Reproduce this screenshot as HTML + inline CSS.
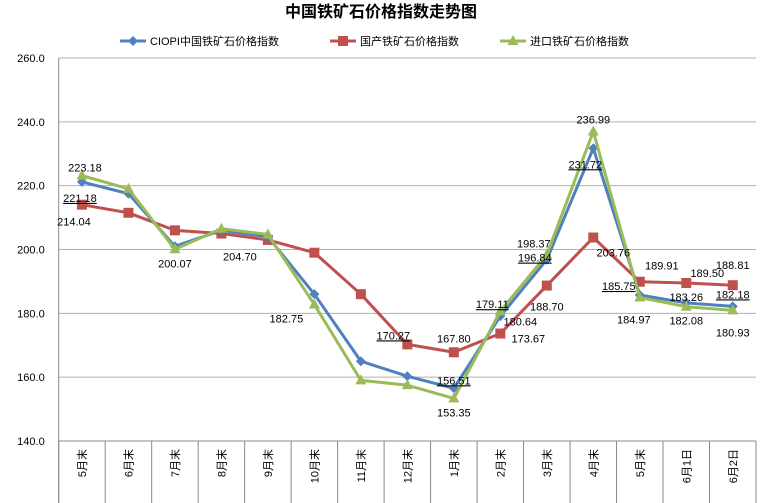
<!DOCTYPE html>
<html><head><meta charset="utf-8"><style>
html,body{margin:0;padding:0;background:#fff;}
svg{display:block;font-family:"Liberation Sans","Noto Sans CJK SC",sans-serif;}
</style></head><body>
<svg id="chart" width="763" height="503" viewBox="0 0 763 503" xmlns="http://www.w3.org/2000/svg">
<text x="381" y="17" text-anchor="middle" font-size="16" font-weight="bold" fill="#000">中国铁矿石价格指数走势图</text>
<g id="legend"></g>
<g id="grid"></g><g id="axes"></g><g id="series"></g><g id="labels"></g>
</svg>
<script>
const categories=["5月末","6月末","7月末","8月末","9月末","10月末","11月末","12月末","1月末","2月末","3月末","4月末","5月末","6月1日","6月2日"];
const ciopi=[221.18,217.5,201.0,206.0,204.0,186.0,165.0,160.3,156.51,179.11,196.84,231.72,185.75,183.26,182.18];
const domestic=[214.04,211.5,206.0,205.0,203.0,199.0,186.0,170.27,167.80,173.67,188.70,203.76,189.91,189.50,188.81];
const imported=[223.18,219.0,200.07,206.5,204.70,182.75,159.0,157.5,153.35,180.64,198.37,236.99,184.97,182.08,180.93];
const yTicks=[140,160,180,200,220,240,260];
const seriesNames=["CIOPI中国铁矿石价格指数","国产铁矿石价格指数","进口铁矿石价格指数"];
const NS="http://www.w3.org/2000/svg";
const L=58.7,R=756,T=58,B=441,ymin=140,ymax=260;
const bw=(R-L)/categories.length;
const x=i=>L+bw*(i+0.5);
const y=v=>B-(v-ymin)/(ymax-ymin)*(B-T);
function mk(tag,attrs,parent){const e=document.createElementNS(NS,tag);for(const k in attrs)e.setAttribute(k,attrs[k]);parent.appendChild(e);return e;}
const grid=document.getElementById('grid'),axes=document.getElementById('axes'),ser=document.getElementById('series'),lab=document.getElementById('labels'),leg=document.getElementById('legend');
yTicks.forEach(t=>{
 const ln=mk('line',{x1:L,x2:R,y1:y(t),y2:y(t),stroke:t===ymin?'#888':'#b0b0b0','stroke-width':1},grid);
 
 
 const tx=mk('text',{x:L-14,y:y(t)+4,'text-anchor':'end','font-size':11,fill:'#000'},axes);
 tx.textContent=t.toFixed(1);
 
 
});
mk('line',{x1:L,x2:L,y1:T,y2:503,stroke:'#888'},axes);
for(let i=0;i<=categories.length;i++){mk('line',{x1:L+bw*i,x2:L+bw*i,y1:B,y2:503,stroke:'#888'},axes);}
categories.forEach((c,i)=>{
 const tx=mk('text',{transform:`translate(${x(i)+4},${B+8}) rotate(-90)`,'text-anchor':'end','font-size':11,fill:'#000'},axes);
 tx.textContent=c;
 
 
});
const colors=['#4f81bd','#c0504d','#9bbb59'];
const data=[ciopi,domestic,imported];
function marker(kind,cx,cy,col,p){
 if(kind===0) return mk('polygon',{points:`${cx},${cy-5} ${cx+5},${cy} ${cx},${cy+5} ${cx-5},${cy}`,fill:col},p);
 if(kind===1) return mk('rect',{x:cx-5,y:cy-5,width:10,height:10,fill:col},p);
 return mk('polygon',{points:`${cx},${cy-6} ${cx+5.5},${cy+4} ${cx-5.5},${cy+4}`,fill:col},p);
}
[1,0,2].forEach(s=>{
 const d=data[s];
 const pl=mk('polyline',{points:d.map((v,i)=>x(i)+','+y(v)).join(' '),fill:'none',stroke:colors[s],'stroke-width':3,'stroke-linejoin':'round'},ser);
 
 
 d.forEach((v,i)=>{
  const m=marker(s,x(i),y(v),colors[s],ser);
  
  
 });
});
// value labels: [series, index, dx, dy, underline]
const labelSpecs=[[0,0,-2,20,true],[1,0,-8,21,false],[2,0,3,-4,false],[2,2,0,18,false],[2,4,-28,26,false],[2,5,-28,18,false],
[1,7,-14,-5,true],[1,8,0,-10,false],[0,8,0,-4,true],[2,8,0,18,false],[0,9,-8,-8,true],[2,9,20,14,false],[1,9,28,9,false],
[2,10,-13,-7,false],[0,10,-12,2,true],[1,10,0,25,false],[2,11,0,-8,false],[0,11,-8,20,true],[1,11,20,19,false],
[0,12,-21,-5,true],[1,12,22,-12,false],[2,12,-6,26,false],[1,13,21,-6,false],[0,13,0,-2,false],[2,13,0,18,false],
[1,14,0,-16,false],[0,14,0,-8,true],[2,14,0,26,false]];
labelSpecs.forEach(([s,i,dx,dy,u])=>{
 const v=data[s][i];
 const tx=mk('text',{x:x(i)+dx,y:y(v)+dy,'text-anchor':'middle','font-size':11,fill:'#000','text-decoration':u?'underline':'none'},lab);
 tx.textContent=v.toFixed(2);
 
 
});
const lx=[120,330,500];
seriesNames.forEach((n,s)=>{
 mk('line',{x1:lx[s],x2:lx[s]+26,y1:41,y2:41,stroke:colors[s],'stroke-width':3},leg);
 marker(s,lx[s]+13,41,colors[s],leg);
 const tx=mk('text',{x:lx[s]+30,y:45,'font-size':11,fill:'#000'},leg);
 tx.textContent=n;
 
 
});
</script>
</body></html>
